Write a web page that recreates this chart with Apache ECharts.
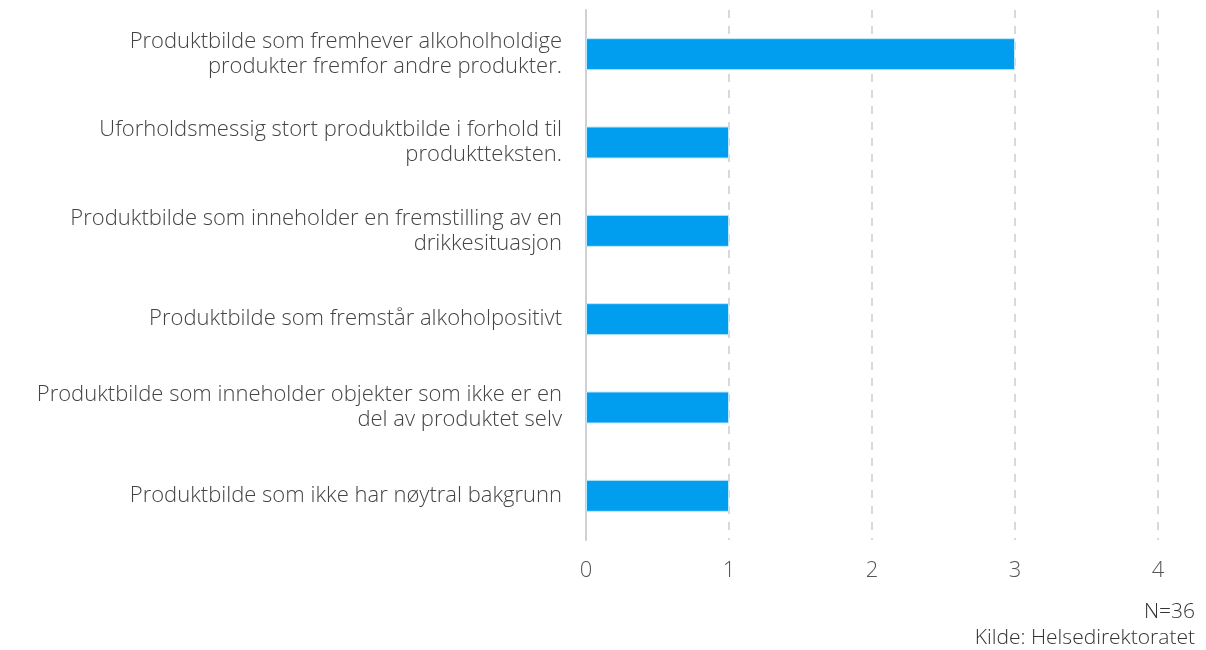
<!DOCTYPE html>
<html>
<head>
<meta charset="utf-8">
<script src="https://cdn.jsdelivr.net/npm/echarts@6/dist/echarts.min.js"></script>
<style>
  html, body { margin: 0; padding: 0; background: #fff; }
  #chart { width: 1206px; height: 650px; }
</style>
</head>
<body>
<div id="chart"></div>
<script>
const categories = [
  'Produktbilde som fremhever alkoholholdige\nprodukter fremfor andre produkter.',
  'Uforholdsmessig stort produktbilde i forhold til\nproduktteksten.',
  'Produktbilde som inneholder en fremstilling av en\ndrikkesituasjon',
  'Produktbilde som fremstår alkoholpositivt',
  'Produktbilde som inneholder objekter som ikke er en\ndel av produktet selv',
  'Produktbilde som ikke har nøytral bakgrunn'
]
const values = [3, 1, 1, 1, 1, 1]
const notes = ['N=36', 'Kilde: Helsedirektoratet']

const font = '"Open Sans", Lato, sans-serif'

const chart = echarts.init(document.getElementById('chart'))
chart.setOption({
  animation: false,
  textStyle: { fontFamily: font },
  grid: {
    left: 586,
    right: 48,
    top: 10,
    bottom: 110
  },
  xAxis: {
    type: 'value',
    min: 0,
    max: 4,
    interval: 1,
    axisLine: { show: false },
    axisTick: { show: false },
    axisLabel: {
      color: '#555',
      fontSize: 22,
      fontWeight: 300,
      fontFamily: font,
      margin: 20
    },
    splitLine: {
      show: true,
      lineStyle: { color: '#d9d9d9', width: 2, type: [8, 8] }
    }
  },
  yAxis: {
    type: 'category',
    inverse: true,
    data: categories,
    axisLine: { show: true, lineStyle: { color: '#d0d0d0', width: 2 } },
    axisTick: { show: false },
    axisLabel: {
      color: '#444',
      fontSize: 22,
      fontWeight: 300,
      fontFamily: font,
      lineHeight: 25,
      align: 'right',
      margin: 24
    }
  },
  series: [
    {
      type: 'bar',
      data: values,
      barWidth: 32,
      itemStyle: {
        color: '#019ef0',
        borderColor: '#bfe6fb',
        borderWidth: 1
      }
    }
  ],
  graphic: notes.map((t, i) => ({
    type: 'text',
    x: 1195,
    y: 612 + i * 26,
    style: {
      text: t,
      fill: '#333',
      font: '300 21px ' + font,
      align: 'right',
      verticalAlign: 'middle'
    }
  }))
})
</script>
</body>
</html>
